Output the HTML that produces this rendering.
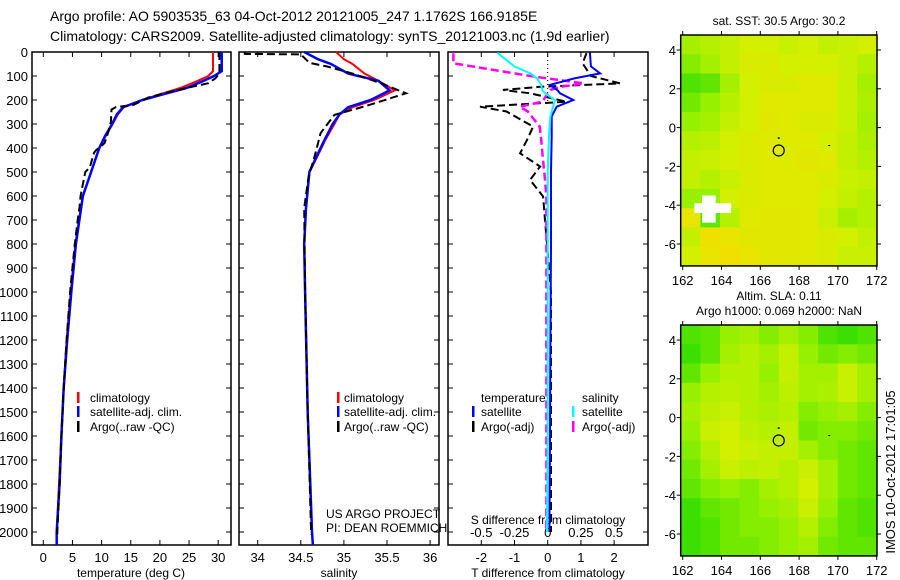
<!DOCTYPE html>
<html><head><meta charset="utf-8"><style>
body{margin:0;background:#fff}
svg{display:block;font-family:"Liberation Sans",sans-serif}
</style></head><body>
<svg id="chart" width="900" height="580" xmlns="http://www.w3.org/2000/svg">
<text x="50" y="21" font-size="14">Argo profile: AO 5903535_63 04-Oct-2012 20121005_247 1.1762S 166.9185E</text>
<text x="50" y="41" font-size="14">Climatology: CARS2009. Satellite-adjusted climatology: synTS_20121003.nc (1.9d earlier)</text>
<g id="g"></g>
</svg>
<script>
// ---------- data ----------
const depthTicks=[0,100,200,300,400,500,600,700,800,900,1000,1100,1200,1300,1400,1500,1600,1700,1800,1900,2000];
const tempTicks=[0,5,10,15,20,25,30];
const salTicks=[34,34.5,35,35.5,36];
const tdiffTicks=[-2,-1,0,1,2];
const sdiffTicks=[-0.5,-0.25,0,0.25,0.5];
const sdiffLabels=["-0.5","-0.25","0","0.25","0.5"];
const lonTicks=[162,164,166,168,170,172];
const latTicks=[4,2,0,-2,-4,-6];

const tDepth=[0,80,100,120,150,180,200,230,260,300,350,400,500,600,700,800,900,1000,1200,1400,1600,1800,2000,2054];
const tClim=[29.1,29.1,28.3,26.5,23.5,19.5,17,13.8,12.8,11.9,10.7,9.6,8.2,6.8,6.1,5.5,5.1,4.7,4.0,3.5,3.1,2.7,2.3,2.3];
const tSat=[30.6,30.6,29.3,27.5,24.6,20,17,13.7,12.6,11.8,10.6,9.6,8.2,6.8,6.2,5.6,5.2,4.8,4.1,3.5,3.1,2.8,2.3,2.3];
const aDepth=[0,90,110,130,145,170,190,220,230,240,290,330,380,410,420,480,500,560,600,650,700,800,900,1000,1200,1400,1600,1800,2000,2010];
const tArgo=[30.2,30.2,29.5,28.3,25.5,21,18,15.5,12.4,11.7,11.6,11.2,10.5,9.0,8.7,8.0,7.2,6.7,6.4,6.2,5.9,5.4,5.0,4.6,4.0,3.5,3.1,2.8,2.4,2.4];

const sDepth=[0,30,50,90,120,160,200,230,260,300,370,430,500,650,800,1000,1500,2000,2054];
const sClim=[34.91,35.0,35.1,35.24,35.4,35.59,35.35,35.1,34.95,34.89,34.78,34.7,34.6,34.56,34.54,34.55,34.58,34.63,34.64];
const sSat=[34.54,34.7,34.85,35.05,35.4,35.53,35.31,35.05,34.95,34.87,34.77,34.69,34.6,34.56,34.54,34.55,34.58,34.63,34.64];
const saDepth=[0,8,10,45,60,90,130,172,186,220,241,262,338,435,518,650,1000,1500,2000,2010];
const sArgo=[33.85,33.85,34.5,34.6,34.8,35.1,35.43,35.72,35.6,35.3,35.1,34.89,34.73,34.66,34.59,34.54,34.55,34.58,34.62,34.62];

const dDepth=[3,60,89,110,137,160,172,200,228,269,350,500,800,1200,1600,2000];
const dTsat=[1.27,1.3,1.58,0.8,0.07,0.3,0.37,0.77,0.27,0.12,0.12,0.1,0.1,0.08,0.07,0.05];
const dSsat=[-0.38,-0.25,-0.13,-0.08,-0.05,-0.04,-0.02,0.055,0.04,0.02,0.01,0.0,0.0,0.0,0.0,-0.005];
const daDepth=[5,47,100,131,145,158,172,207,228,248,311,360,422,477,533,602,700,1000,1500,2000];
const dTargo=[1.17,1.05,1.3,2.18,-0.23,-1.35,-0.53,0.57,-2.04,-1.24,-0.44,-0.6,-0.83,-0.23,-0.53,-0.14,-0.08,0.1,0.1,0.1];
const dSargo=[-0.71,-0.71,-0.13,0.27,0.1,0.02,0.0,-0.04,-0.21,-0.15,-0.06,-0.05,-0.04,-0.03,-0.02,-0.01,-0.01,-0.01,-0.01,-0.01];

const sstGrid=[
[.6,.65,.7,.75,.75,.72,.75,.7,.72,.75],
[.5,.6,.7,.78,.78,.75,.76,.75,.72,.65],
[.35,.4,.6,.75,.78,.78,.8,.8,.72,.6],
[.45,.55,.65,.75,.8,.8,.8,.8,.72,.62],
[.55,.6,.7,.75,.82,.8,.78,.78,.72,.6],
[.65,.68,.75,.78,.8,.8,.8,.76,.7,.62],
[.7,.72,.76,.78,.8,.8,.82,.8,.7,.65],
[.7,.65,.72,.78,.8,.8,.8,.78,.72,.7],
[.55,.55,.75,.78,.8,.8,.8,.75,.7,.65],
[.85,.4,.65,.8,.82,.82,.8,.72,.6,.65],
[.7,.88,.85,.82,.82,.82,.8,.78,.75,.7],
[.75,.85,.88,.85,.82,.82,.8,.78,.72,.72]];
const slaGrid=[
[.35,.4,.55,.6,.5,.6,.5,.35,.3,.35],
[.3,.4,.6,.65,.6,.7,.55,.45,.5,.45],
[.4,.55,.65,.65,.55,.7,.6,.6,.72,.6],
[.55,.65,.68,.65,.6,.68,.6,.62,.72,.6],
[.6,.68,.72,.65,.62,.65,.5,.55,.6,.5],
[.55,.72,.75,.68,.65,.7,.45,.5,.5,.45],
[.5,.65,.75,.72,.7,.7,.6,.5,.45,.4],
[.45,.6,.72,.68,.7,.65,.72,.6,.45,.4],
[.4,.5,.55,.5,.6,.65,.75,.6,.45,.4],
[.3,.4,.45,.5,.55,.6,.72,.55,.4,.35],
[.3,.35,.45,.5,.5,.55,.65,.5,.4,.35],
[.3,.35,.45,.45,.5,.55,.6,.45,.4,.4]];

// ---------- helpers ----------
const NS="http://www.w3.org/2000/svg";
const G=document.getElementById('g');
function mk(tag,attrs,txt){const e=document.createElementNS(NS,tag);for(const k in attrs)e.setAttribute(k,attrs[k]);if(txt!==undefined)e.textContent=txt;G.appendChild(e);return e;}
const Y0=52,YS=0.24,YB=545;
const yD=d=>Y0+d*YS;
const xT=t=>43.3+t*5.83;
const xS=s=>257.7+(s-34)*86.2;
const xDT=t=>547.7+t*33.2;
const xDS=s=>547.7+s*132.8;

function frame(x0,x1,y0,y1,name){
  const r=mk('rect',{x:x0,y:y0,width:x1-x0,height:y1-y0,fill:'none',stroke:'#000','stroke-width':1.5});
  
  
}
function line(xs,ys,fx,color,w,dash,name){
  const pts=xs.map((v,i)=>fx(v).toFixed(1)+','+yD(ys[i]).toFixed(1)).join(' ');
  const p=mk('polyline',{points:pts,fill:'none',stroke:color,'stroke-width':w});
  if(dash)p.setAttribute('stroke-dasharray',dash);
  
  
}
function xticks(ticks,labels,fx,y0,y1,ly,name){
  ticks.forEach((t,i)=>{
    const x=fx(t);
    mk('line',{x1:x,x2:x,y1:y1,y2:y1-5,stroke:'#000'});
    mk('line',{x1:x,x2:x,y1:y0,y2:y0+5,stroke:'#000'});
    const tx=mk('text',{x:x,y:ly,'font-size':13,'text-anchor':'middle'},labels[i]);
    
    
  });
}
function depthTickMarks(x0,x1){
  depthTicks.forEach(d=>{const y=yD(d);
    mk('line',{x1:x0,x2:x0+5,y1:y,y2:y,stroke:'#000'});
    mk('line',{x1:x1,x2:x1-5,y1:y,y2:y,stroke:'#000'});});
}
function txt(x,y,s,name,extra){
  const t=mk('text',Object.assign({x:x,y:y,'font-size':12},extra||{}),s);
  
  
  return t;
}
function legBar(x,y,c){mk('rect',{x:x,y:y-10,width:2.5,height:11,fill:c});}

// ---------- panel 1: temperature ----------
frame(32,231,Y0,YB,'temperature-panel');
depthTickMarks(32,231);
depthTicks.forEach(d=>{const t=txt(28,yD(d)+5,String(d),'depth-tick-label',{'text-anchor':'end','font-size':13});});
xticks(tempTicks,tempTicks.map(String),xT,Y0,YB,562,'temperature-tick-label');
txt(131,577,'temperature (deg C)','temperature-axis-title',{'text-anchor':'middle'});
line(tClim,tDepth,xT,'#f00',2,null,'temp-climatology-line');
line(tSat,tDepth,xT,'#00f',2.5,null,'temp-satellite-line');
line(tArgo,aDepth,xT,'#000',2,'8,4','temp-argo-line');
legBar(77,402,'#f00');legBar(77,416,'#00f');legBar(77,431,'#000');
txt(90,402,'climatology','legend-climatology');
txt(90,416,'satellite-adj. clim.','legend-satellite');
txt(90,431,'Argo(..raw -QC)','legend-argo');

// ---------- panel 2: salinity ----------
frame(239,439,Y0,YB,'salinity-panel');
depthTickMarks(239,439);
xticks(salTicks,salTicks.map(String),xS,Y0,YB,562,'salinity-tick-label');
txt(339,577,'salinity','salinity-axis-title',{'text-anchor':'middle'});
line(sClim,sDepth,xS,'#f00',2,null,'sal-climatology-line');
line(sSat,sDepth,xS,'#00f',2.5,null,'sal-satellite-line');
line(sArgo,saDepth,xS,'#000',2,'8,4','sal-argo-line');
legBar(337,402,'#f00');legBar(337,416,'#00f');legBar(337,431,'#000');
txt(344,402,'climatology','legend-climatology');
txt(344,416,'satellite-adj. clim.','legend-satellite');
txt(344,431,'Argo(..raw -QC)','legend-argo');
txt(326,518,'US ARGO PROJECT','project-label');
txt(326,532,'PI: DEAN ROEMMICH','pi-label');

// ---------- panel 3: differences ----------
frame(448,648,Y0,YB,'difference-panel');
depthTickMarks(448,648);
mk('line',{x1:547.7,x2:547.7,y1:Y0,y2:yD(210),stroke:'#000','stroke-dasharray':'1,3'});
xticks(tdiffTicks,tdiffTicks.map(String),xDT,Y0,YB,562,'tdiff-tick-label');
sdiffTicks.forEach((s,i)=>{const t=txt(xDS(s),537,sdiffLabels[i],'sdiff-tick-label',{'text-anchor':'middle','font-size':13});});
txt(548,524,'S difference from climatology','sdiff-axis-title',{'text-anchor':'middle'});
txt(548,577,'T difference from climatology','tdiff-axis-title',{'text-anchor':'middle'});
line(dTargo,daDepth,xDT,'#000',2,'8,4','tdiff-argo-line');
line(dSargo,daDepth,xDS,'#f0f',2.5,'8,4','sdiff-argo-line');
line(dTsat,dDepth,xDT,'#00f',2,null,'tdiff-satellite-line');
line(dSsat,dDepth,xDS,'#0ff',2,null,'sdiff-satellite-line');
txt(481,402,'temperature','legend-temperature-header');
txt(582,402,'salinity','legend-salinity-header');
legBar(472,416,'#00f');legBar(472,431,'#000');legBar(572,416,'#0ff');legBar(572,431,'#f0f');
txt(481,416,'satellite','legend-temp-satellite');
txt(481,431,'Argo(-adj)','legend-temp-argo');
txt(582,416,'satellite','legend-sal-satellite');
txt(582,431,'Argo(-adj)','legend-sal-argo');

// ---------- maps ----------
const stops=[[0,[0,200,0]],[0.3,[60,224,0]],[0.55,[150,240,0]],[0.75,[210,240,0]],[0.88,[240,224,0]],[1,[248,200,0]]];
function cmap(v){for(let i=1;i<stops.length;i++){if(v<=stops[i][0]){const a=stops[i-1],b=stops[i],f=(v-a[0])/(b[0]-a[0]);return 'rgb('+a[1].map((c,k)=>Math.round(c+(b[1][k]-c)*f)).join(',')+')';}}return 'rgb(248,200,0)';}
function map(grid,top,name,title1,title2){
  const x0=680.7,x1=877,lonS=19.4,lat4=top+15;
  const bottom=lat4+(4+7.13)*lonS;
  const fx=l=>682.7+(l-162)*lonS, fy=la=>lat4+(4-la)*lonS;
  const rows=grid.length,cols=grid[0].length;
  const cw=(x1-x0)/cols,ch=(bottom-top)/rows;
  grid.forEach((row,r)=>row.forEach((v,c)=>{
    const cell=mk('rect',{x:x0+c*cw,y:top+r*ch,width:cw+0.5,height:ch+0.5,fill:cmap(v)});
    
    
  }));
  frame(x0,x1,top,bottom,name);
  lonTicks.forEach(l=>{const x=fx(l);mk('line',{x1:x,x2:x,y1:top,y2:top-4,stroke:'#000'});mk('line',{x1:x,x2:x,y1:bottom,y2:bottom+4,stroke:'#000'});
    txt(x,bottom+19,String(l),name+'-lon-label',{'text-anchor':'middle','font-size':13});});
  latTicks.forEach(la=>{const y=fy(la);mk('line',{x1:x0,x2:x0-4,y1:y,y2:y,stroke:'#000'});mk('line',{x1:x1,x2:x1+4,y1:y,y2:y,stroke:'#000'});
    txt(676,y+5,String(la),name+'-lat-label',{'text-anchor':'end','font-size':13});});
  const m=mk('circle',{cx:fx(166.95),cy:fy(-1.18),r:5.5,fill:'none',stroke:'#000','stroke-width':1.2});
  
  
  mk('rect',{x:fx(166.95)-1,y:fy(-0.5),width:2,height:1.5,fill:'#000'});
  mk('rect',{x:fx(169.5),y:fy(-0.9),width:2,height:1,fill:'#000'});
  if(title1)txt(779,top-10-(title2?15:0),title1,name+'-title',{'text-anchor':'middle'});
  if(title2)txt(779,top-10,title2,name+'-subtitle',{'text-anchor':'middle'});
  return {fx,fy};
}
const m1=map(sstGrid,35,'sst-map','sat. SST: 30.5 Argo: 30.2');
[[163.0,-3.5,0.7,1.4],[162.6,-3.9,1.9,0.5]].forEach(b=>{mk('rect',{x:m1.fx(b[0]),y:m1.fy(b[1]),width:b[2]*19.4,height:b[3]*19.4,fill:'#fff'});});
map(slaGrid,325,'sla-map','Altim. SLA: 0.11','Argo h1000: 0.069 h2000: NaN');
const rt=txt(895,472,'IMOS 10-Oct-2012 17:01:05','imos-timestamp',{'text-anchor':'middle','font-size':13,transform:'rotate(-90 895 472)'});
</script>
</body></html>
